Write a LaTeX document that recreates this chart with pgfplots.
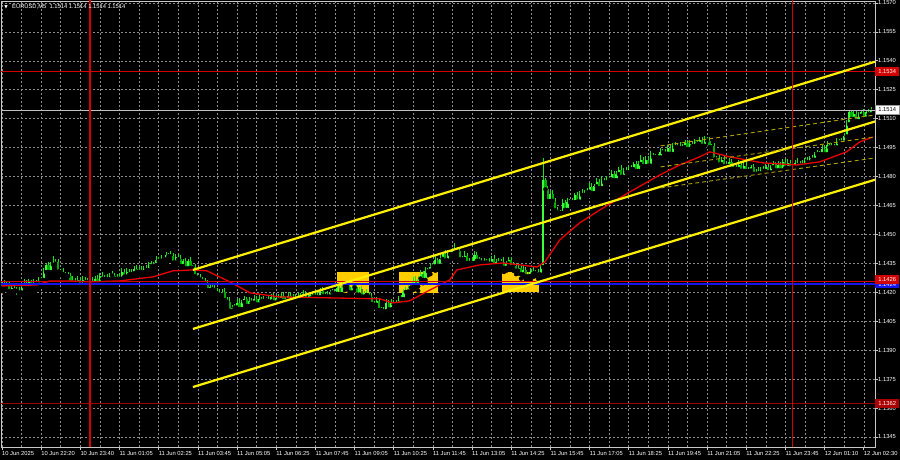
\documentclass[border=0pt]{standalone}
\usepackage{pgfplots}
\pgfplotsset{compat=1.18}
\usepackage{pgfplotstable}
\usepackage{fontspec}
\setmainfont{Liberation Sans}
\newfontfamily\symfont{DejaVu Sans}
\newcommand{\fs}{\fontsize{5.8bp}{7bp}\selectfont}

\definecolor{bull}{RGB}{60,255,60}
\definecolor{bear}{RGB}{0,170,0}
\definecolor{wick}{RGB}{20,230,20}
\definecolor{chan}{RGB}{255,240,0}
\definecolor{regr}{RGB}{175,160,0}
\definecolor{box}{RGB}{255,205,0}
\definecolor{gridc}{RGB}{140,140,140}
\definecolor{lvlred}{RGB}{210,0,0}
\definecolor{dkred}{RGB}{150,0,0}
\definecolor{lvlblue}{RGB}{20,20,235}
\definecolor{maline}{RGB}{235,0,0}

% EURUSD M5 bars: index, open, high, low, close
\pgfplotstableread{
i o h l c
0 1.14224 1.14258 1.14206 1.14242
1 1.14242 1.14263 1.14218 1.14232
2 1.14232 1.14254 1.14210 1.14241
3 1.14241 1.14259 1.14191 1.14206
4 1.14206 1.14237 1.14189 1.14223
5 1.14223 1.14246 1.14197 1.14210
6 1.14210 1.14225 1.14176 1.14207
7 1.14207 1.14226 1.14181 1.14199
8 1.14199 1.14245 1.14185 1.14229
9 1.14229 1.14271 1.14207 1.14250
10 1.14250 1.14263 1.14207 1.14222
11 1.14222 1.14269 1.14205 1.14251
12 1.14251 1.14265 1.14213 1.14226
13 1.14226 1.14271 1.14206 1.14248
14 1.14248 1.14263 1.14223 1.14241
15 1.14241 1.14280 1.14227 1.14261
16 1.14261 1.14280 1.14239 1.14264
17 1.14264 1.14326 1.14249 1.14305
18 1.14305 1.14353 1.14288 1.14340
19 1.14340 1.14358 1.14292 1.14305
20 1.14305 1.14356 1.14285 1.14342
21 1.14342 1.14390 1.14324 1.14348
22 1.14348 1.14370 1.14334 1.14355
23 1.14355 1.14374 1.14285 1.14307
24 1.14307 1.14323 1.14289 1.14304
25 1.14304 1.14325 1.14276 1.14293
26 1.14293 1.14306 1.14276 1.14289
27 1.14289 1.14307 1.14264 1.14284
28 1.14284 1.14298 1.14232 1.14250
29 1.14250 1.14283 1.14236 1.14260
30 1.14260 1.14275 1.14227 1.14249
31 1.14249 1.14284 1.14234 1.14265
32 1.14265 1.14281 1.14222 1.14239
33 1.14239 1.14286 1.14226 1.14265
34 1.14265 1.14278 1.14231 1.14251
35 1.14251 1.14272 1.14233 1.14254
36 1.14254 1.14272 1.14240 1.14258
37 1.14258 1.14281 1.14226 1.14248
38 1.14248 1.14286 1.14233 1.14271
39 1.14271 1.14290 1.14228 1.14245
40 1.14245 1.14299 1.14232 1.14283
41 1.14283 1.14304 1.14249 1.14269
42 1.14269 1.14288 1.14251 1.14275
43 1.14275 1.14293 1.14254 1.14268
44 1.14268 1.14300 1.14246 1.14286
45 1.14286 1.14310 1.14271 1.14287
46 1.14287 1.14302 1.14253 1.14270
47 1.14270 1.14297 1.14257 1.14278
48 1.14278 1.14294 1.14250 1.14270
49 1.14270 1.14327 1.14252 1.14306
50 1.14306 1.14319 1.14267 1.14281
51 1.14281 1.14325 1.14259 1.14307
52 1.14307 1.14321 1.14278 1.14293
53 1.14293 1.14321 1.14276 1.14298
54 1.14298 1.14336 1.14285 1.14321
55 1.14321 1.14340 1.14286 1.14306
56 1.14306 1.14330 1.14288 1.14314
57 1.14314 1.14335 1.14291 1.14305
58 1.14305 1.14334 1.14283 1.14321
59 1.14321 1.14339 1.14300 1.14315
60 1.14315 1.14355 1.14298 1.14341
61 1.14341 1.14364 1.14321 1.14334
62 1.14334 1.14356 1.14314 1.14341
63 1.14341 1.14387 1.14323 1.14368
64 1.14368 1.14384 1.14348 1.14362
65 1.14362 1.14391 1.14340 1.14370
66 1.14370 1.14384 1.14355 1.14371
67 1.14371 1.14409 1.14354 1.14391
68 1.14391 1.14405 1.14374 1.14387
69 1.14387 1.14412 1.14367 1.14389
70 1.14389 1.14404 1.14336 1.14354
71 1.14354 1.14400 1.14340 1.14381
72 1.14381 1.14397 1.14349 1.14371
73 1.14371 1.14392 1.14321 1.14336
74 1.14336 1.14373 1.14319 1.14360
75 1.14360 1.14378 1.14311 1.14324
76 1.14324 1.14374 1.14304 1.14360
77 1.14360 1.14383 1.14309 1.14327
78 1.14327 1.14344 1.14313 1.14329
79 1.14329 1.14348 1.14262 1.14284
80 1.14284 1.14300 1.14258 1.14273
81 1.14273 1.14294 1.14249 1.14266
82 1.14266 1.14279 1.14242 1.14255
83 1.14255 1.14273 1.14228 1.14248
84 1.14248 1.14262 1.14194 1.14212
85 1.14212 1.14248 1.14198 1.14225
86 1.14225 1.14240 1.14195 1.14217
87 1.14217 1.14236 1.14190 1.14205
88 1.14205 1.14221 1.14177 1.14194
89 1.14194 1.14215 1.14174 1.14187
90 1.14187 1.14217 1.14167 1.14204
91 1.14204 1.14222 1.14142 1.14160
92 1.14160 1.14174 1.14137 1.14151
93 1.14151 1.14174 1.14082 1.14104
94 1.14104 1.14135 1.14089 1.14120
95 1.14120 1.14140 1.14103 1.14121
96 1.14121 1.14163 1.14108 1.14147
97 1.14147 1.14168 1.14093 1.14113
98 1.14113 1.14162 1.14095 1.14149
99 1.14149 1.14182 1.14135 1.14164
100 1.14164 1.14178 1.14107 1.14129
101 1.14129 1.14177 1.14114 1.14154
102 1.14154 1.14169 1.14129 1.14146
103 1.14146 1.14185 1.14133 1.14166
104 1.14166 1.14182 1.14117 1.14137
105 1.14137 1.14184 1.14119 1.14163
106 1.14163 1.14176 1.14141 1.14155
107 1.14155 1.14179 1.14133 1.14161
108 1.14161 1.14175 1.14146 1.14161
109 1.14161 1.14184 1.14135 1.14152
110 1.14152 1.14191 1.14139 1.14176
111 1.14176 1.14195 1.14127 1.14147
112 1.14147 1.14184 1.14129 1.14168
113 1.14168 1.14189 1.14146 1.14160
114 1.14160 1.14196 1.14138 1.14183
115 1.14183 1.14201 1.14140 1.14155
116 1.14155 1.14175 1.14138 1.14161
117 1.14161 1.14204 1.14148 1.14181
118 1.14181 1.14196 1.14146 1.14166
119 1.14166 1.14193 1.14148 1.14174
120 1.14174 1.14190 1.14147 1.14161
121 1.14161 1.14202 1.14139 1.14181
122 1.14181 1.14194 1.14158 1.14173
123 1.14173 1.14211 1.14156 1.14193
124 1.14193 1.14207 1.14148 1.14161
125 1.14161 1.14190 1.14141 1.14167
126 1.14167 1.14203 1.14149 1.14188
127 1.14188 1.14207 1.14162 1.14176
128 1.14176 1.14201 1.14154 1.14185
129 1.14185 1.14206 1.14159 1.14174
130 1.14174 1.14222 1.14157 1.14209
131 1.14209 1.14227 1.14167 1.14180
132 1.14180 1.14200 1.14160 1.14186
133 1.14186 1.14209 1.14160 1.14178
134 1.14178 1.14214 1.14164 1.14199
135 1.14199 1.14219 1.14177 1.14200
136 1.14200 1.14216 1.14177 1.14192
137 1.14192 1.14243 1.14175 1.14222
138 1.14222 1.14235 1.14177 1.14190
139 1.14190 1.14253 1.14170 1.14235
140 1.14235 1.14249 1.14211 1.14229
141 1.14229 1.14253 1.14215 1.14230
142 1.14230 1.14245 1.14177 1.14199
143 1.14199 1.14248 1.14184 1.14229
144 1.14229 1.14245 1.14209 1.14226
145 1.14226 1.14247 1.14175 1.14188
146 1.14188 1.14228 1.14168 1.14215
147 1.14215 1.14233 1.14160 1.14178
148 1.14178 1.14209 1.14164 1.14195
149 1.14195 1.14218 1.14164 1.14186
150 1.14186 1.14201 1.14162 1.14177
151 1.14177 1.14196 1.14122 1.14139
152 1.14139 1.14155 1.14122 1.14135
153 1.14135 1.14177 1.14115 1.14156
154 1.14156 1.14169 1.14090 1.14108
155 1.14108 1.14126 1.14085 1.14108
156 1.14108 1.14122 1.14079 1.14101
157 1.14101 1.14166 1.14086 1.14143
158 1.14143 1.14158 1.14094 1.14111
159 1.14111 1.14164 1.14098 1.14145
160 1.14145 1.14161 1.14118 1.14138
161 1.14138 1.14162 1.14120 1.14141
162 1.14141 1.14183 1.14127 1.14170
163 1.14170 1.14188 1.14142 1.14164
164 1.14164 1.14216 1.14149 1.14202
165 1.14202 1.14227 1.14185 1.14204
166 1.14204 1.14239 1.14191 1.14224
167 1.14224 1.14249 1.14204 1.14230
168 1.14230 1.14277 1.14212 1.14261
169 1.14261 1.14282 1.14216 1.14230
170 1.14230 1.14284 1.14208 1.14271
171 1.14271 1.14315 1.14256 1.14297
172 1.14297 1.14311 1.14247 1.14264
173 1.14264 1.14331 1.14251 1.14308
174 1.14308 1.14327 1.14288 1.14312
175 1.14312 1.14352 1.14294 1.14333
176 1.14333 1.14350 1.14319 1.14334
177 1.14334 1.14386 1.14312 1.14365
178 1.14365 1.14378 1.14322 1.14337
179 1.14337 1.14391 1.14320 1.14373
180 1.14373 1.14410 1.14360 1.14396
181 1.14396 1.14419 1.14345 1.14365
182 1.14365 1.14417 1.14347 1.14402
183 1.14402 1.14421 1.14384 1.14398
184 1.14398 1.14431 1.14376 1.14415
185 1.14415 1.14456 1.14400 1.14423
186 1.14423 1.14436 1.14397 1.14414
187 1.14414 1.14432 1.14358 1.14371
188 1.14371 1.14386 1.14351 1.14372
189 1.14372 1.14413 1.14354 1.14390
190 1.14390 1.14405 1.14338 1.14352
191 1.14352 1.14379 1.14330 1.14360
192 1.14360 1.14376 1.14337 1.14352
193 1.14352 1.14415 1.14335 1.14394
194 1.14394 1.14407 1.14350 1.14363
195 1.14363 1.14382 1.14343 1.14364
196 1.14364 1.14378 1.14335 1.14353
197 1.14353 1.14377 1.14339 1.14354
198 1.14354 1.14373 1.14332 1.14358
199 1.14358 1.14377 1.14333 1.14348
200 1.14348 1.14386 1.14331 1.14370
201 1.14370 1.14391 1.14325 1.14338
202 1.14338 1.14372 1.14318 1.14359
203 1.14359 1.14377 1.14333 1.14351
204 1.14351 1.14372 1.14337 1.14358
205 1.14358 1.14381 1.14305 1.14327
206 1.14327 1.14364 1.14312 1.14349
207 1.14349 1.14384 1.14332 1.14365
208 1.14365 1.14381 1.14318 1.14331
209 1.14331 1.14359 1.14311 1.14338
210 1.14338 1.14351 1.14294 1.14312
211 1.14312 1.14345 1.14298 1.14327
212 1.14327 1.14341 1.14271 1.14293
213 1.14293 1.14341 1.14278 1.14318
214 1.14318 1.14333 1.14266 1.14283
215 1.14283 1.14304 1.14270 1.14285
216 1.14285 1.14324 1.14265 1.14308
217 1.14308 1.14329 1.14280 1.14298
218 1.14298 1.14318 1.14284 1.14305
219 1.14305 1.14323 1.14270 1.14292
220 1.14292 1.14344 1.14277 1.14330
221 1.14330 1.14896 1.14310 1.14780
222 1.14780 1.14795 1.14721 1.14734
223 1.14734 1.14753 1.14653 1.14673
224 1.14673 1.14725 1.14655 1.14709
225 1.14709 1.14730 1.14660 1.14674
226 1.14674 1.14687 1.14603 1.14625
227 1.14625 1.14643 1.14599 1.14614
228 1.14614 1.14628 1.14580 1.14611
229 1.14611 1.14686 1.14598 1.14663
230 1.14663 1.14678 1.14607 1.14627
231 1.14627 1.14688 1.14609 1.14669
232 1.14669 1.14685 1.14653 1.14667
233 1.14667 1.14688 1.14645 1.14667
234 1.14667 1.14717 1.14652 1.14704
235 1.14704 1.14722 1.14653 1.14670
236 1.14670 1.14725 1.14657 1.14711
237 1.14711 1.14734 1.14684 1.14704
238 1.14704 1.14732 1.14686 1.14717
239 1.14717 1.14740 1.14703 1.14721
240 1.14721 1.14764 1.14699 1.14748
241 1.14748 1.14769 1.14699 1.14714
242 1.14714 1.14762 1.14697 1.14749
243 1.14749 1.14792 1.14736 1.14774
244 1.14774 1.14788 1.14720 1.14740
245 1.14740 1.14801 1.14722 1.14778
246 1.14778 1.14793 1.14756 1.14770
247 1.14770 1.14802 1.14748 1.14783
248 1.14783 1.14800 1.14768 1.14784
249 1.14784 1.14836 1.14767 1.14815
250 1.14815 1.14828 1.14768 1.14781
251 1.14781 1.14831 1.14761 1.14813
252 1.14813 1.14850 1.14795 1.14836
253 1.14836 1.14859 1.14784 1.14798
254 1.14798 1.14843 1.14776 1.14828
255 1.14828 1.14847 1.14807 1.14822
256 1.14822 1.14856 1.14805 1.14840
257 1.14840 1.14861 1.14824 1.14837
258 1.14837 1.14876 1.14817 1.14863
259 1.14863 1.14881 1.14811 1.14829
260 1.14829 1.14879 1.14815 1.14865
261 1.14865 1.14911 1.14843 1.14888
262 1.14888 1.14903 1.14839 1.14854
263 1.14854 1.14907 1.14837 1.14888
264 1.14888 1.14904 1.14843 1.14856
265 1.14856 1.14930 1.14836 1.14909
266 1.14909 1.14922 1.14883 1.14901
267 1.14901 1.14919 1.14887 1.14901
268 1.14901 1.14915 1.14877 1.14899
269 1.14899 1.14948 1.14884 1.14925
270 1.14925 1.14941 1.14908 1.14926
271 1.14926 1.14945 1.14905 1.14918
272 1.14918 1.14962 1.14898 1.14946
273 1.14946 1.14967 1.14899 1.14917
274 1.14917 1.14973 1.14903 1.14960
275 1.14960 1.14978 1.14929 1.14951
276 1.14951 1.14969 1.14936 1.14955
277 1.14955 1.14978 1.14930 1.14947
278 1.14947 1.14967 1.14934 1.14952
279 1.14952 1.14991 1.14932 1.14972
280 1.14972 1.14988 1.14924 1.14942
281 1.14942 1.14991 1.14928 1.14970
282 1.14970 1.14983 1.14936 1.14958
283 1.14958 1.14995 1.14943 1.14977
284 1.14977 1.14991 1.14952 1.14969
285 1.14969 1.15006 1.14956 1.14991
286 1.14991 1.15006 1.14939 1.14959
287 1.14959 1.15008 1.14941 1.14989
288 1.14989 1.15005 1.14972 1.14986
289 1.14986 1.15007 1.14930 1.14952
290 1.14952 1.14969 1.14937 1.14956
291 1.14956 1.14974 1.14871 1.14888
292 1.14888 1.14909 1.14875 1.14895
293 1.14895 1.14918 1.14843 1.14863
294 1.14863 1.14903 1.14845 1.14888
295 1.14888 1.14907 1.14840 1.14854
296 1.14854 1.14871 1.14832 1.14855
297 1.14855 1.14897 1.14840 1.14876
298 1.14876 1.14889 1.14823 1.14840
299 1.14840 1.14866 1.14827 1.14848
300 1.14848 1.14862 1.14819 1.14839
301 1.14839 1.14884 1.14821 1.14861
302 1.14861 1.14876 1.14816 1.14830
303 1.14830 1.14876 1.14808 1.14857
304 1.14857 1.14873 1.14813 1.14828
305 1.14828 1.14852 1.14811 1.14831
306 1.14831 1.14861 1.14818 1.14848
307 1.14848 1.14866 1.14794 1.14814
308 1.14814 1.14839 1.14796 1.14825
309 1.14825 1.14848 1.14802 1.14816
310 1.14816 1.14851 1.14794 1.14836
311 1.14836 1.14855 1.14814 1.14829
312 1.14829 1.14867 1.14812 1.14851
313 1.14851 1.14872 1.14809 1.14822
314 1.14822 1.14861 1.14802 1.14848
315 1.14848 1.14881 1.14830 1.14863
316 1.14863 1.14877 1.14818 1.14832
317 1.14832 1.14883 1.14810 1.14860
318 1.14860 1.14875 1.14817 1.14832
319 1.14832 1.14892 1.14815 1.14873
320 1.14873 1.14889 1.14832 1.14845
321 1.14845 1.14892 1.14825 1.14871
322 1.14871 1.14884 1.14825 1.14843
323 1.14843 1.14867 1.14829 1.14849
324 1.14849 1.14885 1.14827 1.14871
325 1.14871 1.14894 1.14843 1.14858
326 1.14858 1.14881 1.14841 1.14866
327 1.14866 1.14885 1.14845 1.14858
328 1.14858 1.14895 1.14838 1.14879
329 1.14879 1.14900 1.14855 1.14873
330 1.14873 1.14908 1.14859 1.14895
331 1.14895 1.14913 1.14865 1.14887
332 1.14887 1.14929 1.14872 1.14915
333 1.14915 1.14939 1.14898 1.14916
334 1.14916 1.14931 1.14903 1.14916
335 1.14916 1.14963 1.14896 1.14944
336 1.14944 1.14960 1.14897 1.14915
337 1.14915 1.14984 1.14901 1.14963
338 1.14963 1.14976 1.14929 1.14951
339 1.14951 1.14973 1.14936 1.14955
340 1.14955 1.14969 1.14934 1.14951
341 1.14951 1.15000 1.14938 1.14977
342 1.14977 1.14995 1.14957 1.14980
343 1.14980 1.14999 1.14958 1.14976
344 1.14976 1.15024 1.14962 1.15008
345 1.15008 1.15092 1.14986 1.15071
346 1.15071 1.15146 1.15056 1.15135
347 1.15135 1.15145 1.15082 1.15099
348 1.15099 1.15140 1.15086 1.15125
349 1.15125 1.15140 1.15067 1.15087
350 1.15087 1.15134 1.15069 1.15115
351 1.15115 1.15146 1.15101 1.15136
352 1.15136 1.15148 1.15078 1.15100
353 1.15100 1.15147 1.15085 1.15134
354 1.15134 1.15152 1.15105 1.15122
355 1.15122 1.15158 1.15109 1.15144
356 1.15144 1.15154 1.15126 1.15145
}\candles

% red moving average
\pgfplotstableread{
i ma
0 1.14233
14.3 1.14238
19.6 1.14259
27.8 1.14259
35.9 1.14254
48.2 1.14259
61.7 1.14280
69.8 1.14311
78.0 1.14316
83.7 1.14311
93.1 1.14254
101.3 1.14197
113.5 1.14176
133.9 1.14171
154.3 1.14166
159.7 1.14145
166.6 1.14156
174.8 1.14212
182.9 1.14264
185.8 1.14316
195.2 1.14342
204.6 1.14352
211.5 1.14342
218.5 1.14331
221.7 1.14357
227.8 1.14471
236.0 1.14560
244.2 1.14627
256.4 1.14720
268.7 1.14808
276.8 1.14860
285.0 1.14902
289.1 1.14928
297.3 1.14902
310.7 1.14871
324.6 1.14860
334.0 1.14876
345.0 1.14928
350.3 1.14979
355.7 1.15005
}\matab

\begin{document}
\begin{tikzpicture}
\fill[black] (-1bp,-13bp) rectangle (899bp,447bp);
\useasboundingbox (-1bp,-13bp) rectangle (899bp,447bp);
\begin{axis}[
    scale only axis,
    width=874bp, height=446bp,
    xmin=-0.4, xmax=356.6,
    ymin=1.13398, ymax=1.15710,
    clip mode=individual,
    axis line style={draw=black!22, line width=0.7bp},
    xtick={0,16,...,352},
    minor xtick={8,24,...,344},
    xticklabels={10 Jun 2025,10 Jun 22:20,10 Jun 23:40,11 Jun 01:05,11 Jun 02:25,11 Jun 03:45,11 Jun 05:05,11 Jun 06:25,11 Jun 07:45,11 Jun 09:05,11 Jun 10:25,11 Jun 11:45,11 Jun 13:05,11 Jun 14:25,11 Jun 15:45,11 Jun 17:05,11 Jun 18:25,11 Jun 19:45,11 Jun 21:05,11 Jun 22:25,11 Jun 23:45,12 Jun 01:10,12 Jun 02:30},
    ytick={1.1345,1.1360,1.1375,1.1390,1.1405,1.1420,1.1435,1.1450,1.1465,1.1480,1.1495,1.1510,1.1525,1.1540,1.1555,1.1570},
    xtick pos=left, ytick pos=right, yticklabel pos=right,
    tick align=outside, major tick length=2.5bp, minor tick length=0pt,
    tick style={draw=black!22, line width=0.6bp},
    grid=both,
    major grid style={draw=gridc, line width=0.5bp, dash pattern=on 2bp off 2bp},
    minor grid style={draw=gridc, line width=0.5bp, dash pattern=on 2bp off 2bp},
    tick label style={font=\fs, text=white},
    xticklabel style={anchor=north west, inner sep=0pt, yshift=-2bp},
    yticklabel style={anchor=west, inner sep=0pt, xshift=0.5bp,
      /pgf/number format/fixed, /pgf/number format/fixed zerofill,
      /pgf/number format/precision=4, /pgf/number format/assume math mode=true},
]
% trade zones
\addplot[fill=box, draw=none] coordinates {(136.8,1.14197) (149.9,1.14197) (149.9,1.14306) (136.8,1.14306)} -- cycle;
\addplot[fill=box, draw=none] coordinates {(162.1,1.14197) (178.0,1.14197) (178.0,1.14306) (162.1,1.14306)} -- cycle;
\addplot[fill=box, draw=none] coordinates {(204.2,1.14200) (219.3,1.14200) (219.3,1.14306) (204.2,1.14306)} -- cycle;

% candles: wicks, then bodies
\addplot[only marks, mark=none, error bars/.cd, y dir=plus, y explicit, error mark=none,
  error bar style={draw=wick, line width=1.0bp}]
  table[x=i, y=l, y error plus expr={\thisrow{h}-\thisrow{l}}] {\candles};
\addplot[only marks, mark=none, error bars/.cd, y dir=plus, y explicit, error mark=none,
  error bar style={draw=bull, line width=2.1bp}]
  table[x=i, y expr={\thisrow{c}<\thisrow{o} ? nan : \thisrow{o}}, y error plus expr={\thisrow{c}-\thisrow{o}}] {\candles};
\addplot[only marks, mark=none, error bars/.cd, y dir=plus, y explicit, error mark=none,
  error bar style={draw=bear, line width=2.1bp}]
  table[x=i, y expr={\thisrow{c}<\thisrow{o} ? \thisrow{c} : nan}, y error plus expr={\thisrow{o}-\thisrow{c}}] {\candles};

% moving average
\addplot[maline, line width=1.3bp] table[x=i, y=ma] {\matab};

% horizontal levels
\addplot[lvlred, line width=0.8bp] coordinates {(-1,1.15345) (357,1.15345)};
\addplot[black!25, line width=0.7bp] coordinates {(-1,1.15145) (357,1.15145)};
\addplot[lvlblue, line width=2.6bp] coordinates {(-1,1.14243) (357,1.14243)};
\addplot[lvlred, line width=0.8bp] coordinates {(-1,1.14257) (357,1.14257)};
\addplot[dkred, line width=0.8bp] coordinates {(-1,1.13625) (357,1.13625)};

% ascending channel
\addplot[chan, line width=2.2bp] coordinates {(78,1.14316) (357,1.15397)};
\addplot[chan, line width=2.2bp] coordinates {(78,1.14010) (357,1.15087)};
\addplot[chan, line width=2.2bp] coordinates {(78,1.13709) (357,1.14785)};

% regression channel
\addplot[regr, line width=0.9bp, dash pattern=on 4bp off 3bp] coordinates {(269,1.14959) (357,1.15120)};
\addplot[regr, line width=0.9bp, dash pattern=on 4bp off 3bp] coordinates {(269,1.14850) (357,1.15006)};
\addplot[regr, line width=0.9bp, dash pattern=on 4bp off 3bp] coordinates {(269,1.14741) (357,1.14897)};

% day separators
\addplot[lvlred, line width=1.4bp] coordinates {(36,1.1330) (36,1.1580)};
\addplot[lvlred, line width=1.4bp] coordinates {(323,1.1330) (323,1.1580)};

% title
\node[text=white, inner sep=0pt, font=\symfont\fontsize{4.5bp}{5bp}\selectfont, xshift=5bp, yshift=-6bp] at (rel axis cs:0,1) {▼};
\node[anchor=west, text=white, inner sep=0pt, font=\fs, xshift=11bp, yshift=-6bp] at (rel axis cs:0,1) {EURUSD,M5\ \ 1.1514 1.1514 1.1514 1.1514};

% price tags
\node[anchor=west, fill=lvlred, text=white, font=\fs, inner sep=0pt, minimum width=24bp, minimum height=9bp] at (axis cs:356.6,1.15345) {1.1534};
\node[anchor=west, fill=white, draw=black!40, text=black, font=\fs, inner sep=0pt, minimum width=24bp, minimum height=9bp] at (axis cs:356.6,1.15145) {1.1514};
\node[anchor=west, fill=lvlblue, text=white, font=\fs, inner sep=0pt, minimum width=24bp, minimum height=9bp] at (axis cs:356.6,1.14243) {1.1424};
\node[anchor=west, fill=lvlred, text=white, font=\fs, inner sep=0pt, minimum width=24bp, minimum height=9bp, yshift=1.5bp] at (axis cs:356.6,1.14257) {1.1426};
\node[anchor=west, fill=dkred!80!red, text=white, font=\fs, inner sep=0pt, minimum width=24bp, minimum height=9bp] at (axis cs:356.6,1.13625) {1.1362};
\end{axis}
\end{tikzpicture}
\end{document}
